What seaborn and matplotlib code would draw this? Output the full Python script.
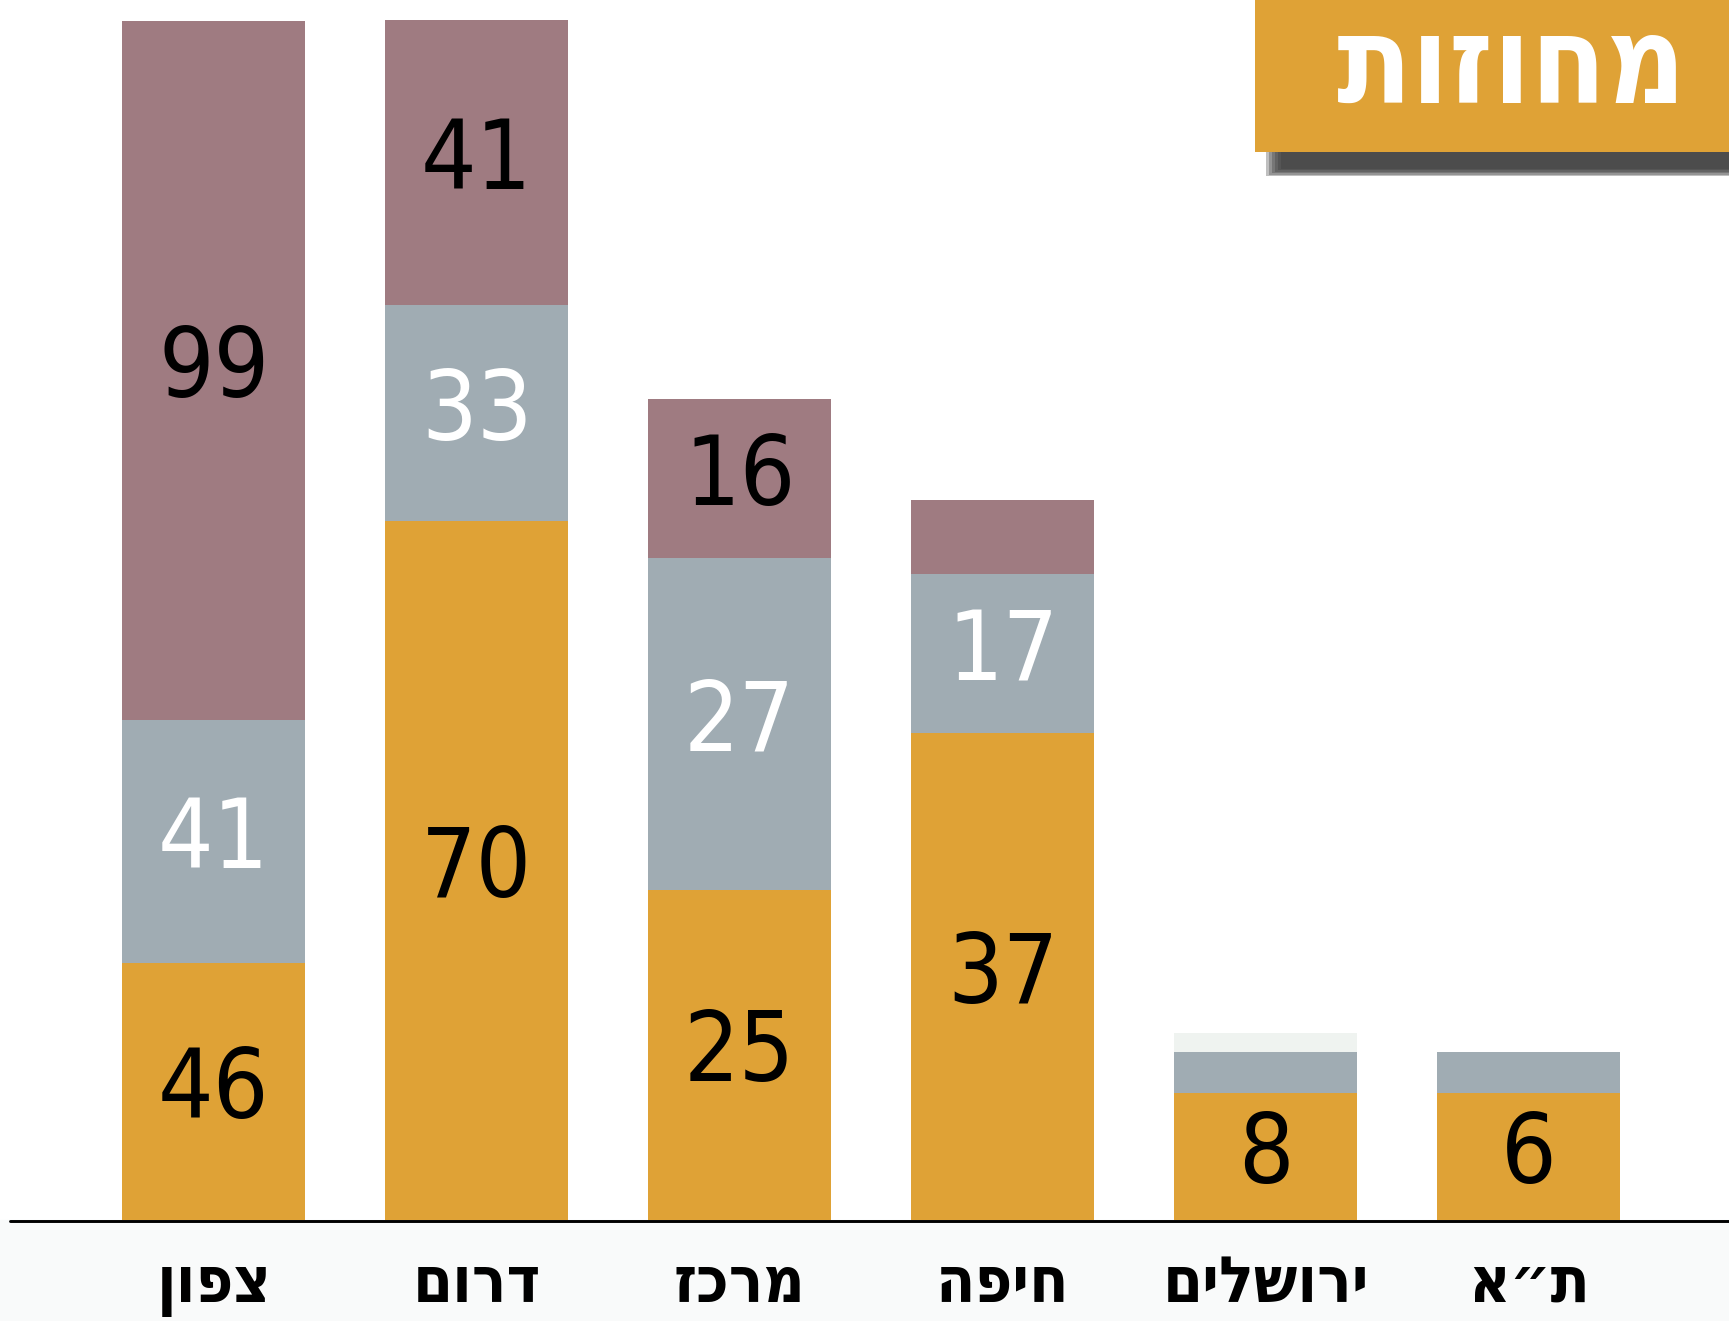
import matplotlib
matplotlib.use("Agg")
import matplotlib.pyplot as plt
import numpy as np
import pandas as pd
import seaborn as sns
from matplotlib.patches import Rectangle

# --------------------------------------------------------------------------- #
# Data (segment heights as drawn; printed numbers kept separately since the
# original bars are not drawn to scale with their labels)
# --------------------------------------------------------------------------- #
regions = ["צפון", "דרום", "מרכז", "חיפה", "ירושלים", "ת״א"]

orange_h = [21.4, 58.25, 27.5, 40.6, 10.6, 10.6]
gray_h = [20.25, 18.0, 27.7, 13.2, 3.4, 3.4]
mauve_h = [58.3, 23.75, 13.2, 6.2, 0, 0]
pale_h = [0, 0, 0, 0, 1.6, 0]

orange_lbl = ["46", "70", "25", "37", "8", "6"]
gray_lbl = ["41", "33", "27", "17", "", ""]
mauve_lbl = ["99", "41", "16", "", "", ""]

title = "מחוזות"

ORANGE, GRAY, MAUVE, PALE = "#dfa236", "#a0acb3", "#9f7b81", "#eff3f0"

sns.set_theme(style="white")
plt.rcParams["font.family"] = ["DejaVu Sans"]

W, H = 1729, 1321
fig = plt.figure(figsize=(W / 100, H / 100), dpi=100)
fig.patch.set_facecolor("white")
ax = fig.add_axes([0, 0, 1, 1])

df = pd.DataFrame({"region": regions, "orange": orange_h, "gray": gray_h,
                   "mauve": mauve_h, "pale": pale_h})

segments = [("orange", ORANGE, orange_lbl, "black"),
            ("gray", GRAY, gray_lbl, "white"),
            ("mauve", MAUVE, mauve_lbl, "black"),
            ("pale", PALE, [""] * 6, "black")]

bottom = np.zeros(len(regions))
for col, color, labels, tcolor in segments:
    vals = df[col].to_numpy(dtype=float)
    sns.barplot(data=df, x="region", y=col, order=regions, color=color,
                saturation=1, width=0.696, errorbar=None, linewidth=0,
                bottom=bottom.copy(), ax=ax)
    for i, (v, lab) in enumerate(zip(vals, labels)):
        if lab:
            ax.text(i, bottom[i] + v / 2, lab, ha="center", va="center",
                    color=tcolor, fontsize=70, fontstretch="condensed", zorder=6)
    bottom += vals

ax.set_xlim(-0.8125, 5.7616)
ax.set_ylim(-8.42, 101.67)
ax.axis("off")

# light strip below the baseline and the baseline itself
ax.axhspan(-8.42, 0, color="#f9fafa", zorder=0)
ax.axhline(-0.1, xmin=10 / W, xmax=1, color="black", lw=2.1, zorder=5)

for i, name in enumerate(regions):
    ax.text(i, -6.83, name[::-1], ha="center", va="baseline", color="black",
            fontsize=46, fontweight="bold", fontstretch="condensed")

# title box with drop shadow (pixel coordinates)
ov = fig.add_axes([0, 0, 1, 1], zorder=10)
ov.set_xlim(0, W)
ov.set_ylim(H, 0)
ov.axis("off")
ov.patch.set_alpha(0)
for k in range(6):
    ov.add_patch(Rectangle((1266 + 3 * k, 146 + k), W - 1266 - 3 * k, 30 - 2.5 * k,
                           color="#3a3a3a", alpha=0.32, lw=0))
ov.add_patch(Rectangle((1255, 0), W - 1255, 152, color=ORANGE, lw=0))
ov.text(1512, 103, title[::-1], ha="center", va="baseline", color="white",
        fontsize=88, fontweight="bold", fontstretch="condensed")

fig.savefig("out.png", dpi=100, facecolor="white")
